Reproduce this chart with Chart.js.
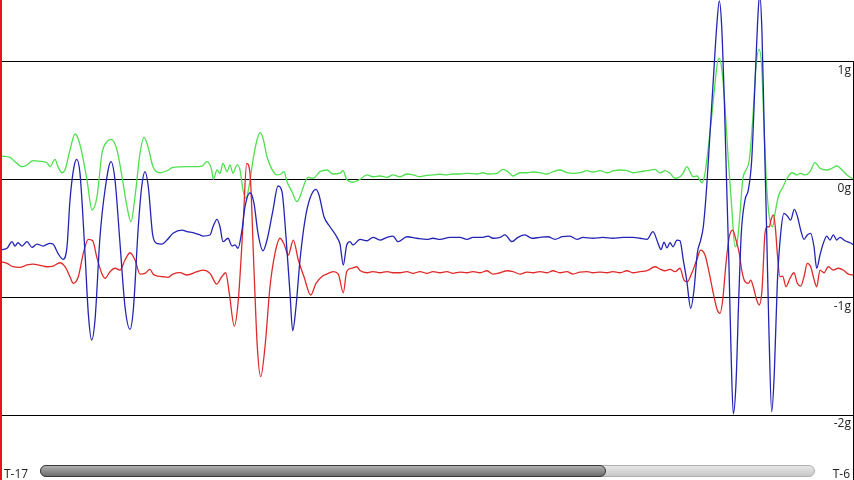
<!DOCTYPE html>
<html>
<head>
<meta charset="utf-8">
<script src="https://cdn.jsdelivr.net/npm/chart.js@4/dist/chart.umd.min.js"></script>
<style>
html,body{margin:0;padding:0;background:#fff;overflow:hidden;}
#wrap{position:relative;width:854px;height:480px;}
canvas{display:block;}
</style>
</head>
<body>
<div id="wrap"><canvas id="c" width="854" height="480"></canvas></div>
<script>
// sample positions (sample index) and accelerations (g)
const greenT = [0,2,10,15,22,27,33,40,47,50,55,58,62,65,70,75,78,82,87,92,97,102,107,111,117,122,127,131,135,140,144,148,153,160,167,173,187,193,202,207,211.7,213.3,217,220,223,227,230,233,237,240,243,246,249,253,257,260,263,267,272,277,281,284,287,292,297,300,304,308,313,320,327,333,340,343,347,353,360,367,373,380,387,393,400,407,413,420,427,433,440,447,453,460,467,477,483,488,497,503,508,513,520,527,533,540,547,553,560,567,573,580,587,593,600,607,613,620,627,633,640,647,655,660,665,670,675,680,683,687,690,693,697,702,705,708,711.7,715,717.3,719.3,721.7,725,728.3,731.7,735,737.3,740,742.7,746,749.3,752.7,756,759,761.7,764,766.7,769.3,772.7,775,778.3,783,788,792,797,800,805,810,815,820,827,832,837,842,847,852,854];
const greenG = [0.205,0.201,0.190,0.153,0.110,0.125,0.161,0.156,0.144,0.110,0.173,0.110,0.059,0.082,0.252,0.388,0.352,0.224,-0.003,-0.258,-0.145,0.224,0.323,0.343,0.252,0.025,-0.230,-0.357,-0.145,0.224,0.360,0.280,0.110,0.059,0.076,0.105,0.110,0.110,0.116,0.153,0.082,0.003,0.082,0.054,0.139,0.068,0.125,0.054,0.125,0.082,-0.088,-0.158,-0.060,0.167,0.337,0.399,0.352,0.195,0.088,0.040,0.048,0.068,-0.017,-0.102,-0.187,-0.145,-0.045,0.020,0.012,0.068,0.082,0.048,0.055,0.076,-0.003,-0.022,0.003,0.040,0.025,0.031,0.020,0.040,0.025,0.048,0.040,0.025,0.037,0.040,0.046,0.040,0.048,0.048,0.054,0.048,0.059,0.048,0.054,0.088,0.068,0.031,0.059,0.059,0.065,0.059,0.048,0.068,0.082,0.059,0.054,0.059,0.076,0.065,0.076,0.059,0.074,0.082,0.076,0.059,0.068,0.076,0.088,0.057,0.076,0.054,0.012,0.025,0.054,0.110,0.068,0.025,0.031,-0.026,0.054,0.252,0.535,0.819,0.989,1.031,0.946,0.620,0.167,-0.230,-0.570,-0.527,-0.286,-0.003,0.082,0.167,0.507,0.960,1.108,0.960,0.450,-0.060,-0.315,-0.400,-0.286,-0.145,-0.060,0.025,0.059,0.040,0.054,0.040,0.068,0.144,0.097,0.082,0.097,0.116,0.082,0.040,0.012,0.005];

const blueT = [0,7,12,15,18,22,27,32,37,43,50,53,58,63,67,70,74,76.7,80,85,88.3,91.7,95,100,105,111,115,120,125,130,133.3,138.3,141.7,145,148.3,152.7,156.7,162,167,173,182,187,193,200,203,210,213,217,220,223,228,232,235,238,242,245,250,254,258,263,267,273,278,282,286,290,292.7,296,300,305,310,316,319,324,330,337,340,343.3,346.7,350,353,360,367,373,380,387,393,398,407,417,427,433,440,450,460,467,473,483,488,493,500,505,512,518,525,532,540,548,555,562,570,577,583,593,603,613,623,633,640,647,653,658,661,664,667,670,673,677,680,683.3,686.7,690.7,694,697.3,700.7,703.3,706.7,710,713.3,716.7,719.3,721.7,724.3,726.7,729,731,733.3,736,738.7,741.3,745,748.3,751.7,755,757.7,759.7,762,764.3,766.7,769,771.7,774.3,777.3,780.7,784,787.3,790.7,794.3,797.3,800.7,804,807.3,810.7,814,816.7,820,823.3,826.7,830,833.3,836.7,840,845,850,854];
const blueG = [-0.598,-0.583,-0.527,-0.564,-0.536,-0.564,-0.527,-0.575,-0.547,-0.564,-0.541,-0.547,-0.626,-0.677,-0.570,-0.173,0.110,0.173,0.054,-0.626,-1.136,-1.363,-1.193,-0.485,-0.088,0.153,-0.003,-0.541,-1.080,-1.272,-1.108,-0.400,-0.060,0.068,-0.060,-0.470,-0.541,-0.547,-0.513,-0.456,-0.428,-0.442,-0.451,-0.470,-0.479,-0.470,-0.400,-0.337,-0.400,-0.527,-0.498,-0.564,-0.555,-0.583,-0.428,-0.230,-0.111,-0.201,-0.456,-0.604,-0.513,-0.258,-0.054,-0.102,-0.485,-0.966,-1.284,-1.080,-0.683,-0.343,-0.158,-0.082,-0.130,-0.315,-0.400,-0.490,-0.548,-0.725,-0.555,-0.527,-0.555,-0.507,-0.519,-0.490,-0.513,-0.490,-0.479,-0.527,-0.485,-0.498,-0.507,-0.498,-0.507,-0.490,-0.490,-0.507,-0.490,-0.490,-0.479,-0.498,-0.490,-0.470,-0.527,-0.490,-0.470,-0.498,-0.490,-0.485,-0.507,-0.485,-0.479,-0.507,-0.490,-0.498,-0.490,-0.498,-0.490,-0.490,-0.498,-0.507,-0.442,-0.540,-0.595,-0.530,-0.580,-0.536,-0.570,-0.513,-0.519,-0.683,-0.853,-1.093,-0.938,-0.626,-0.513,-0.400,-0.060,0.394,0.847,1.300,1.520,1.300,0.677,-0.060,-0.740,-1.448,-1.990,-1.731,-1.023,-0.456,-0.173,-0.088,0.167,0.819,1.357,1.580,1.244,0.394,-0.456,-1.306,-1.972,-1.646,-0.881,-0.456,-0.286,-0.309,-0.343,-0.252,-0.309,-0.428,-0.507,-0.470,-0.456,-0.570,-0.753,-0.640,-0.541,-0.479,-0.513,-0.470,-0.513,-0.490,-0.519,-0.536,-0.555];

const redT = [0,7,13,20,27,33,40,47,53,60,65,70,73.3,78.3,83.3,88.3,92.7,96.7,101.7,105,110,115,120,125,130,135,140,145,150,153,158,163,168,173,180,187,197,203,210,216.7,221.7,225.7,229.3,234.3,238.3,243.3,246.7,250,254,257.3,260.7,265,270,275,280,284,288.3,293.3,298.3,304,310.7,316,321.7,326.7,333.3,338.3,343.3,346.7,351.7,356.7,360,367,373,380,387,393,400,407,413,420,427,433,440,447,453,460,467,473,480,487,493,500,507,513,520,527,533,540,547,553,560,567,573,580,587,593,600,607,613,620,627,633,640,647,655,660,665,670,675,680,684,687.3,691.7,696.7,700.7,705,709.3,713.3,717.3,720,722.7,726,729.3,732.7,736,739.3,741.7,745,748.3,750.7,753.3,756.7,759.3,762,765,767.3,769.3,771,773.3,775.3,777.3,780,782.7,786,790,794,797.3,800.7,804,807.3,810.7,814,816.7,820,824,828.3,833.3,838.3,843.3,848.3,854];
const redG = [-0.697,-0.711,-0.740,-0.745,-0.725,-0.717,-0.728,-0.740,-0.734,-0.706,-0.740,-0.825,-0.881,-0.825,-0.626,-0.507,-0.519,-0.655,-0.796,-0.838,-0.782,-0.753,-0.768,-0.683,-0.621,-0.683,-0.802,-0.796,-0.762,-0.802,-0.819,-0.825,-0.830,-0.802,-0.790,-0.810,-0.782,-0.768,-0.796,-0.887,-0.825,-0.791,-0.966,-1.244,-1.023,-0.343,0.139,0.054,-0.768,-1.420,-1.674,-1.420,-0.910,-0.626,-0.498,-0.547,-0.640,-0.513,-0.683,-0.825,-0.980,-0.881,-0.825,-0.802,-0.782,-0.802,-0.961,-0.780,-0.753,-0.740,-0.772,-0.791,-0.782,-0.791,-0.782,-0.791,-0.791,-0.782,-0.796,-0.782,-0.796,-0.782,-0.791,-0.782,-0.796,-0.785,-0.791,-0.782,-0.791,-0.774,-0.802,-0.791,-0.774,-0.782,-0.802,-0.785,-0.791,-0.782,-0.791,-0.774,-0.791,-0.782,-0.802,-0.785,-0.782,-0.791,-0.785,-0.791,-0.782,-0.791,-0.774,-0.791,-0.782,-0.774,-0.740,-0.760,-0.774,-0.762,-0.782,-0.753,-0.853,-0.867,-0.796,-0.683,-0.598,-0.640,-0.796,-0.966,-1.108,-1.136,-1.023,-0.711,-0.485,-0.428,-0.513,-0.626,-0.768,-0.867,-0.881,-0.853,-0.910,-1.023,-1.065,-0.938,-0.456,-0.400,-0.400,-0.343,-0.300,-0.400,-0.626,-0.825,-0.819,-0.910,-0.838,-0.791,-0.881,-0.904,-0.825,-0.711,-0.740,-0.847,-0.910,-0.768,-0.791,-0.740,-0.768,-0.753,-0.768,-0.802,-0.810];

const gTicks = [-2, -1, 0, 1];
const timeLabels = ['T-17', 'T-6'];
const sampleRange = [0, 854];
const gRange = [-2.3824, 1.5269];

function pts(t, g) { return t.map((x, i) => ({ x: x, y: g[i] })); }
function noPad(a) { a.paddingTop = 0; a.paddingBottom = 0; a.paddingLeft = 0; a.paddingRight = 0; }

const deco = {
  id: 'deco',
  afterDraw(chart) {
    const ctx = chart.ctx;
    const ys = chart.scales.y;
    ctx.save();
    ctx.fillStyle = '#000';
    const y1 = Math.round(ys.getPixelForValue(1));
    ctx.fillRect(853, y1, 1, 480 - y1);
    function rr(x, y, w, h, r) {
      ctx.beginPath();
      ctx.moveTo(x + r, y);
      ctx.lineTo(x + w - r, y);
      ctx.arc(x + w - r, y + r, r, -Math.PI / 2, Math.PI / 2);
      ctx.lineTo(x + r, y + h);
      ctx.arc(x + r, y + r, r, Math.PI / 2, Math.PI * 1.5);
      ctx.closePath();
    }
    const by = 465.5, bh = 11;
    let g1 = ctx.createLinearGradient(0, by, 0, by + bh);
    g1.addColorStop(0, '#e8e8e8'); g1.addColorStop(1, '#c6c6c6');
    rr(40.5, by, 774, bh, bh / 2);
    ctx.fillStyle = g1; ctx.fill();
    ctx.strokeStyle = '#b0b0b0'; ctx.lineWidth = 1; ctx.stroke();
    let g2 = ctx.createLinearGradient(0, by, 0, by + bh);
    g2.addColorStop(0, '#b4b4b4'); g2.addColorStop(0.5, '#8e8e8e'); g2.addColorStop(1, '#6a6a6a');
    rr(40.5, by, 565, bh, bh / 2);
    ctx.fillStyle = g2; ctx.fill();
    ctx.strokeStyle = '#3a3a3a'; ctx.stroke();
    ctx.fillStyle = '#e01818';
    ctx.fillRect(0, 0, 2, 480);
    ctx.restore();
  }
};

new Chart(document.getElementById('c'), {
  type: 'line',
  data: {
    datasets: [
      { label: 'z', data: pts(blueT, blueG), borderColor: '#2424b4' },
      { label: 'x', data: pts(redT, redG), borderColor: '#e02a2a' },
      { label: 'y', data: pts(greenT, greenG), borderColor: '#4fe04f' }
    ]
  },
  options: {
    responsive: false,
    animation: false,
    events: [],
    layout: { padding: 0 },
    elements: {
      line: { borderWidth: 1.3, cubicInterpolationMode: 'monotone', fill: false },
      point: { radius: 0 }
    },
    plugins: { legend: { display: false }, tooltip: { enabled: false } },
    scales: {
      x: {
        type: 'linear',
        min: sampleRange[0], max: sampleRange[1],
        grid: { display: false, drawTicks: false },
        border: { display: false },
        afterBuildTicks: (a) => { a.ticks = [{ value: sampleRange[0] + 4 }, { value: sampleRange[1] - 4 }]; },
        afterFit: (a) => { a.height = 20; noPad(a); },
        ticks: {
          autoSkip: false, maxRotation: 0, align: 'inner', padding: 7,
          color: '#222', font: { family: 'Open Sans', size: 12 },
          callback: (v, i) => timeLabels[i]
        }
      },
      y: {
        position: 'right',
        min: gRange[0], max: gRange[1],
        afterBuildTicks: (a) => { a.ticks = gTicks.map(v => ({ value: v })); },
        afterFit: (a) => { a.width = 0; noPad(a); },
        grid: { color: '#000', lineWidth: 1, drawTicks: false },
        border: { display: false },
        ticks: {
          mirror: true, padding: -3, labelOffset: 9,
          color: '#222', font: { family: 'Open Sans', size: 12 },
          callback: (v) => v + 'g'
        }
      }
    }
  },
  plugins: [deco]
});
</script>
</body>
</html>
